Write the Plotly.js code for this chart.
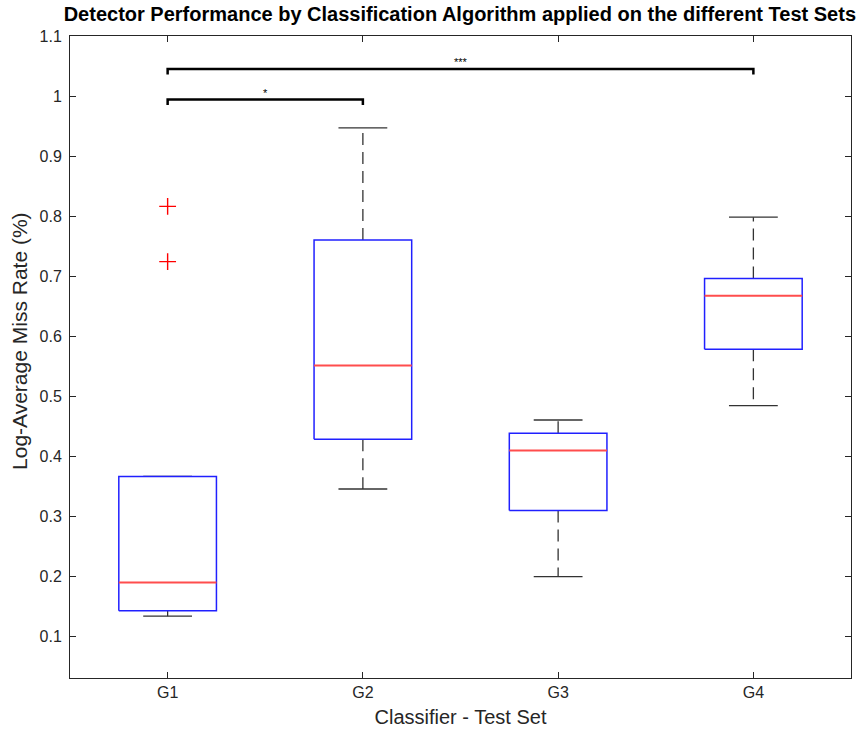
<!DOCTYPE html>
<html>
<head>
<meta charset="utf-8">
<script src="https://cdn.plot.ly/plotly-3.0.1.min.js"></script>
<style>html,body{margin:0;padding:0;background:#fff;}#chart{width:866px;height:736px;}</style>
</head>
<body>
<div id="chart"></div>
<script>
// ---- data ----
const categories = ['G1', 'G2', 'G3', 'G4'];
const lowerWhisker = [0.133, 0.345, 0.199, 0.484];
const q1 = [0.142, 0.428, 0.309, 0.578];
const medians = [0.189, 0.551, 0.409, 0.667];
const q3 = [0.366, 0.760, 0.438, 0.696];
const upperWhisker = [0.366, 0.947, 0.460, 0.798];
const outlierGroups = ['G1', 'G1'];
const outlierValues = [0.816, 0.724];
const sigFrom = ['G1', 'G1'];
const sigTo = ['G2', 'G4'];
const sigLevel = [0.994, 1.045];
const sigLabel = ['*', '***'];

// ---- style ----
const BOX_HALF = 0.25, CAP_HALF = 0.125;
const axisColor = '#262626';
const FONT = 'Liberation Sans, Arial, sans-serif';
const pos = c => categories.indexOf(c) + 1;

const traces = [];
categories.forEach((c, i) => {
  const x = i + 1;
  traces.push({type: 'scatter', mode: 'lines', x: [x, x, null, x, x], y: [q3[i], upperWhisker[i], null, q1[i], lowerWhisker[i]],
    line: {color: '#333', width: 1.3, dash: '12px,7px'}, hoverinfo: 'skip', showlegend: false});
  traces.push({type: 'scatter', mode: 'lines', x: [x - CAP_HALF, x + CAP_HALF, null, x - CAP_HALF, x + CAP_HALF],
    y: [upperWhisker[i], upperWhisker[i], null, lowerWhisker[i], lowerWhisker[i]],
    line: {color: '#333', width: 1.3}, hoverinfo: 'skip', showlegend: false});
  traces.push({type: 'scatter', mode: 'lines', x: [x - BOX_HALF, x + BOX_HALF, x + BOX_HALF, x - BOX_HALF, x - BOX_HALF],
    y: [q1[i], q1[i], q3[i], q3[i], q1[i]],
    line: {color: '#2020ff', width: 1.5}, hoverinfo: 'skip', showlegend: false});
  traces.push({type: 'scatter', mode: 'lines', x: [x - BOX_HALF, x + BOX_HALF], y: [medians[i], medians[i]],
    line: {color: '#ff4d4d', width: 2}, hoverinfo: 'skip', showlegend: false});
});
traces.push({type: 'scatter', mode: 'markers', x: outlierGroups.map(pos), y: outlierValues,
  marker: {symbol: 'cross-thin', size: 12, color: '#ff0000', line: {color: '#ff0000', width: 1.4}}, hoverinfo: 'skip', showlegend: false});
const annotations = [];
sigFrom.forEach((a, k) => {
  const xa = pos(a), xb = pos(sigTo[k]), yv = sigLevel[k], drop = 0.009;
  traces.push({type: 'scatter', mode: 'lines', x: [xa, xa, xb, xb], y: [yv - drop, yv, yv, yv - drop],
    line: {color: '#000', width: 2.5}, hoverinfo: 'skip', showlegend: false});
  annotations.push({x: (xa + xb) / 2, y: yv, xref: 'x', yref: 'y', text: sigLabel[k], showarrow: false,
    yanchor: 'bottom', yshift: -1, font: {family: FONT, size: 11, color: '#000'}});
});
annotations.push({text: 'Log-Average Miss Rate (%)', xref: 'paper', yref: 'paper', x: -0.064, y: 0.525,
  xanchor: 'center', yanchor: 'middle', textangle: -90, showarrow: false,
  font: {family: FONT, size: 21, color: axisColor}});

const layout = {
  width: 866, height: 736,
  margin: {l: 70, r: 15, t: 36, b: 58},
  paper_bgcolor: '#fff', plot_bgcolor: '#fff',
  font: {family: FONT, color: axisColor},
  title: {text: '<b>Detector Performance by Classification Algorithm applied on the different Test Sets</b>',
    x: 0.531, xanchor: 'center', y: 0.981, yanchor: 'middle',
    font: {family: FONT, size: 20, color: '#000'}},
  xaxis: {range: [0.5, 4.5], tickvals: [1, 2, 3, 4], ticktext: categories,
    showgrid: false, zeroline: false, showline: true, linecolor: axisColor, linewidth: 1,
    mirror: 'ticks', ticks: 'inside', ticklen: 6, tickcolor: axisColor,
    tickfont: {size: 16, color: axisColor},
    title: {text: 'Classifier - Test Set', font: {size: 20, color: axisColor}, standoff: 9}},
  yaxis: {range: [0.03, 1.1], tickvals: [0.1,0.2,0.3,0.4,0.5,0.6,0.7,0.8,0.9,1,1.1],
    ticktext: ['0.1','0.2','0.3','0.4','0.5','0.6','0.7','0.8','0.9','1','1.1'],
    showgrid: false, zeroline: false, showline: true, linecolor: axisColor, linewidth: 1,
    mirror: 'ticks', ticks: 'inside', ticklen: 6, tickcolor: axisColor,
    tickfont: {size: 16, color: axisColor}, ticklabelstandoff: 4},
  annotations: annotations,
  showlegend: false
};
Plotly.newPlot('chart', traces, layout, {displayModeBar: false, staticPlot: true});
</script>
</body>
</html>
